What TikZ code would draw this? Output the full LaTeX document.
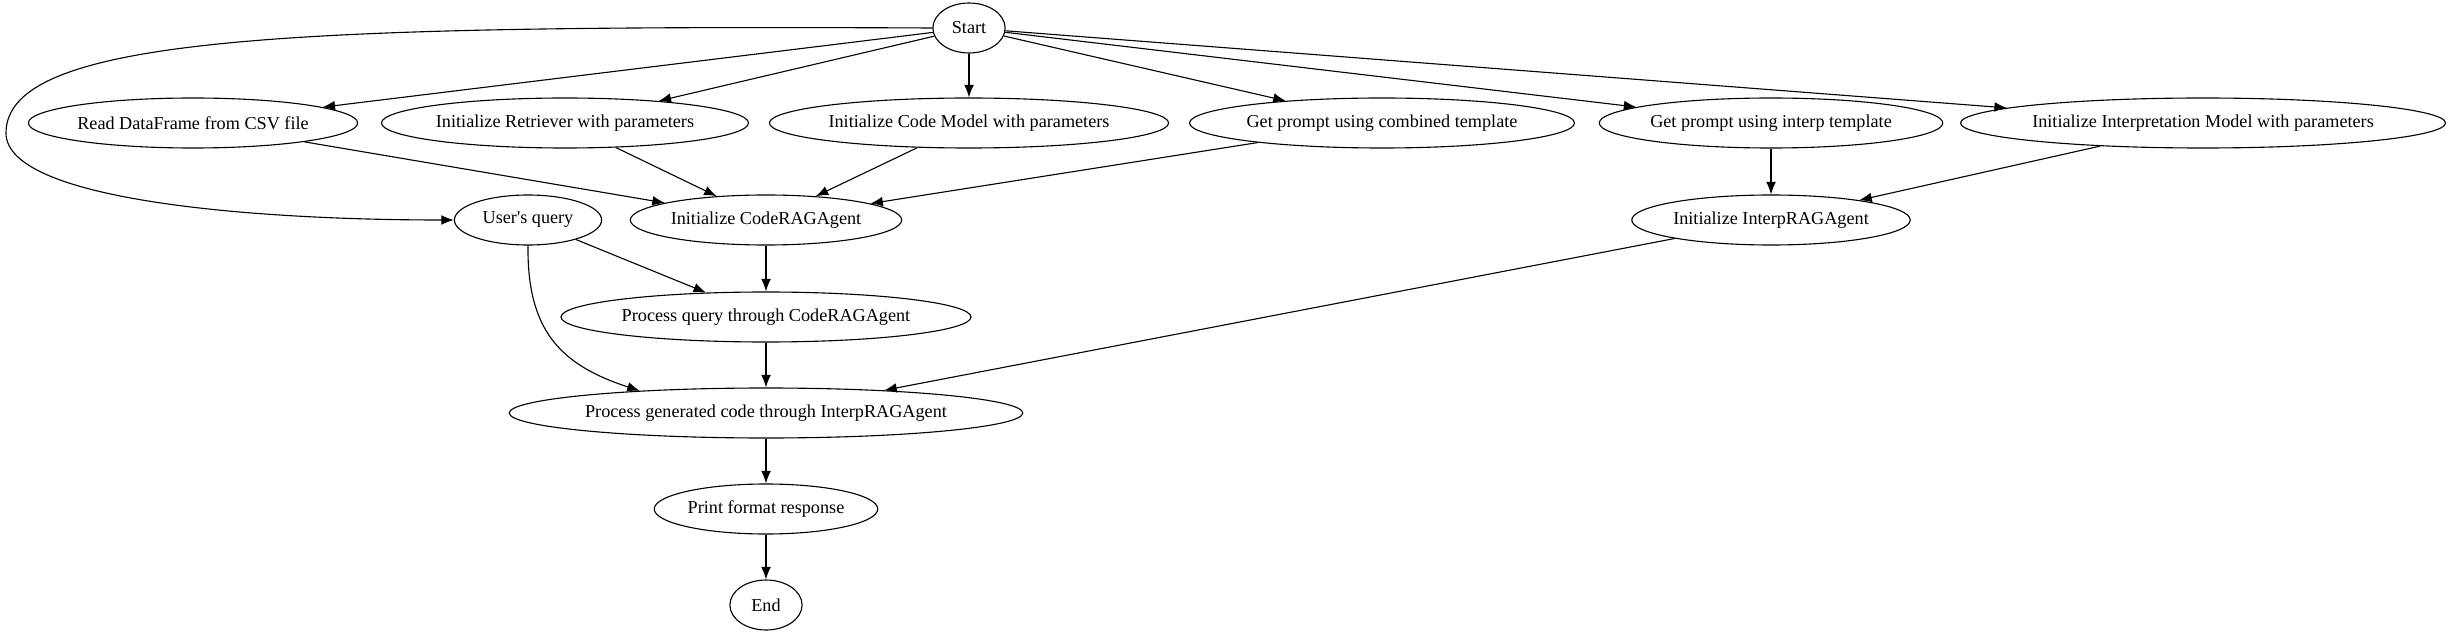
\documentclass[tikz,border=0pt]{standalone}
\usepackage{fontspec}
\setmainfont{Liberation Serif}
\usetikzlibrary{shapes.geometric, arrows.meta}

\begin{document}
\begin{tikzpicture}[x = 0.72pt, y = -0.72pt,
    nodo/.style = {draw, ellipse, line width = 0.8pt, inner xsep = 0.5pt, inner ysep = 0pt, minimum height = 36pt, minimum width = 52pt, font = \fontsize{13.1}{15}\selectfont},
    freccia/.style = {-{Latex[length = 9pt, width = 7pt]}, line width = 0.8pt}]
    \useasboundingbox (0,0) rectangle (2446,635);
    
    % Nodi
    % Riga iniziale
    \node[nodo] (Start) at (969,28) {Start};
    % Inizializzazioni
    \node[nodo] (ReadCSV) at (193,123) {Read DataFrame from CSV file};
    \node[nodo] (InitRetriever) at (565,123) {Initialize Retriever with parameters};
    \node[nodo] (InitCodeModel) at (969,123) {Initialize Code Model with parameters};
    \node[nodo] (PromptCombined) at (1382,123) {Get prompt using combined template};
    \node[nodo] (PromptInterp) at (1771,123) {Get prompt using interp template};
    \node[nodo] (InitInterpModel) at (2203,123) {Initialize Interpretation Model with parameters};
    % Agenti e query
    \node[nodo, minimum width = 106pt] (UserQuery) at (528,220) {User\textquotesingle s query};
    \node[nodo] (CodeAgent) at (766,220) {Initialize CodeRAGAgent};
    \node[nodo] (InterpAgent) at (1771,220) {Initialize InterpRAGAgent};
    % Elaborazione
    \node[nodo] (ProcQuery) at (766,317) {Process query through CodeRAGAgent};
    \node[nodo] (ProcCode) at (766,413) {Process generated code through InterpRAGAgent};
    \node[nodo] (PrintResp) at (766,509) {Print format response};
    \node[nodo] (End) at (766,605) {End};
    
    % Frecce da Start
    \draw[freccia] (Start) -- (ReadCSV);
    \draw[freccia] (Start) -- (InitRetriever);
    \draw[freccia] (Start) -- (InitCodeModel);
    \draw[freccia] (Start) -- (PromptCombined);
    \draw[freccia] (Start) -- (PromptInterp);
    \draw[freccia] (Start) -- (InitInterpModel);
    % curva lunga verso la query
    \coordinate (Curva) at (6,133);
    \draw[freccia] (Start.west) .. controls (300,25) and (6,35) .. (Curva) .. controls (6,200) and (250,220) .. (UserQuery.west);
    % Verso CodeRAGAgent
    \draw[freccia] (ReadCSV) -- (CodeAgent);
    \draw[freccia] (InitRetriever) -- (CodeAgent);
    \draw[freccia] (InitCodeModel) -- (CodeAgent);
    \draw[freccia] (PromptCombined) -- (CodeAgent);
    % Verso InterpRAGAgent
    \draw[freccia] (PromptInterp) -- (InterpAgent);
    \draw[freccia] (InitInterpModel) -- (InterpAgent);
    % Elaborazione
    \draw[freccia] (UserQuery) -- (ProcQuery);
    \draw[freccia] (CodeAgent) -- (ProcQuery);
    \draw[freccia] (UserQuery.south) .. controls (527,330) and (560,365) .. (ProcCode.170);
    \draw[freccia] (ProcQuery) -- (ProcCode);
    \draw[freccia] (InterpAgent) -- (ProcCode);
    \draw[freccia] (ProcCode) -- (PrintResp);
    \draw[freccia] (PrintResp) -- (End);
\end{tikzpicture}
\end{document}
